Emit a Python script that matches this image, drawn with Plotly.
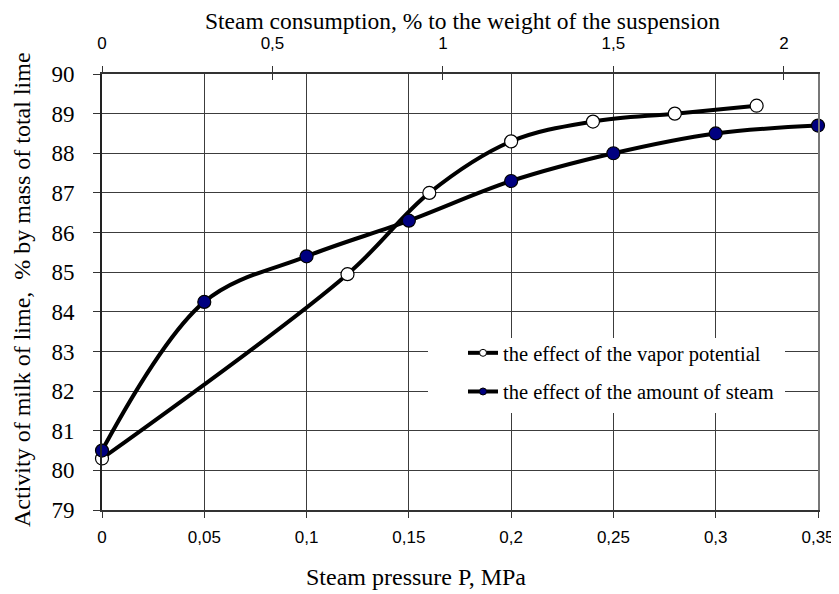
import plotly.graph_objects as go

# Data
pressure_open = [0, 0.12, 0.16, 0.2, 0.24, 0.28, 0.32]
activity_open = [80.3, 84.95, 87.0, 88.3, 88.8, 89.0, 89.2]

steam_filled = [0, 0.3, 0.6, 0.9, 1.2, 1.5, 1.8, 2.1]
activity_filled = [80.5, 84.25, 85.4, 86.3, 87.3, 88.0, 88.5, 88.7]

x_bottom_ticks = [0, 0.05, 0.1, 0.15, 0.2, 0.25, 0.3, 0.35]
x_bottom_labels = ["0", "0,05", "0,1", "0,15", "0,2", "0,25", "0,3", "0,35"]
x_top_ticks = [0, 0.5, 1, 1.5, 2]
x_top_labels = ["0", "0,5", "1", "1,5", "2"]
y_ticks = list(range(79, 91))

name_open = "the effect of the vapor potential"
name_filled = "the effect of the amount of steam"
title_top = "Steam consumption, % to the weight of the suspension"
title_bottom = "Steam pressure P, MPa"
title_y = "Activity of milk of lime,  % by mass of total lime"

SERIF = "Liberation Serif"
SANS = "Liberation Sans"

# page body has an 8px margin; compensate so the plot lands where the reference has it
OFF = 8
W, H = 839 - OFF, 594 - OFF
L, R, T, B = 102 - OFF, 21, 74 - OFF, 84
plot_w = W - L - R
plot_h = H - T - B


def px_x(px):
    return (px - OFF - L) / plot_w


def px_y(py):
    return (H - B - (py - OFF)) / plot_h


fig = go.Figure()

fig.add_trace(go.Scatter(
    x=pressure_open, y=activity_open, mode="lines+markers",
    line=dict(color="black", width=4, shape="spline", smoothing=1),
    marker=dict(size=13, color="white", line=dict(color="black", width=1.2)),
    showlegend=False, xaxis="x", yaxis="y", cliponaxis=False))

fig.add_trace(go.Scatter(
    x=steam_filled, y=activity_filled, mode="lines+markers",
    line=dict(color="black", width=4, shape="spline", smoothing=1),
    marker=dict(size=13, color="#000080", line=dict(color="black", width=1.2)),
    showlegend=False, xaxis="x2", yaxis="y", cliponaxis=False))

# legend entries
fig.add_trace(go.Scatter(
    x=[None], y=[None], mode="lines+markers", name=name_open, legendgroup="a",
    line=dict(color="black", width=4),
    marker=dict(size=7, color="white", line=dict(color="black", width=1)),
    xaxis="x", yaxis="y"))
fig.add_trace(go.Scatter(
    x=[None], y=[None], mode="lines+markers", name=name_filled, legendgroup="b",
    line=dict(color="black", width=4),
    marker=dict(size=7, color="#000080", line=dict(color="black", width=1)),
    xaxis="x", yaxis="y"))

# helper traces so the extra axes are drawn
fig.add_trace(go.Scatter(x=[None], y=[None], xaxis="x3", yaxis="y", showlegend=False))
fig.add_trace(go.Scatter(x=[None], y=[None], xaxis="x", yaxis="y2", showlegend=False))

grid = "#3c3c3c"
fig.update_layout(
    width=W, height=H,
    margin=dict(l=L, r=R, t=T, b=B),
    paper_bgcolor="white", plot_bgcolor="white",
    xaxis=dict(
        range=[0, 0.35], tickvals=x_bottom_ticks, ticktext=x_bottom_labels,
        showgrid=True, gridcolor=grid, gridwidth=1,
        showline=True, linecolor="#333", linewidth=1.5,
        ticks="outside", ticklen=6, tickcolor="#333",
        tickfont=dict(family=SANS, size=17, color="black"),
        ticklabelstandoff=5, automargin=False, zeroline=False),
    xaxis2=dict(
        range=[0, 2.1], overlaying="x", side="top", anchor="y",
        tickvals=x_top_ticks, ticktext=x_top_labels,
        showgrid=False, showline=True, linecolor="#333", linewidth=1.5,
        ticks="outside", ticklen=6, tickcolor="#333",
        tickfont=dict(family=SANS, size=17, color="black"),
        ticklabelstandoff=10, automargin=False, zeroline=False),
    xaxis3=dict(
        range=[0, 2.1], overlaying="x", side="top", anchor="y",
        tickvals=x_top_ticks, showticklabels=False, showgrid=False,
        ticks="inside", ticklen=6, tickcolor="#333", showline=False,
        automargin=False, zeroline=False),
    yaxis=dict(
        range=[79, 90], tickvals=y_ticks,
        showgrid=True, gridcolor=grid, gridwidth=1,
        showline=True, linecolor="#222", linewidth=2,
        ticks="outside", ticklen=7, tickcolor="#333",
        tickfont=dict(family=SERIF, size=23, color="black"),
        ticklabelstandoff=14, automargin=False, zeroline=False),
    yaxis2=dict(range=[79, 90], overlaying="y", side="right", showticklabels=False,
                showgrid=False, showline=True, linecolor="#777", linewidth=1.5,
                ticks="", automargin=False, zeroline=False),
    legend=dict(x=px_x(463), y=px_y(333), xanchor="left", yanchor="top",
                bgcolor="rgba(0,0,0,0)", borderwidth=0, tracegroupgap=9,
                font=dict(family=SERIF, size=20.5, color="black")),
    shapes=[dict(type="rect", xref="paper", yref="paper", layer="above",
                 x0=px_x(428), x1=px_x(785), y0=px_y(413), y1=px_y(338),
                 fillcolor="white", line=dict(width=0))],
    annotations=[
        dict(text=title_top, x=px_x(462), y=px_y(21), xref="paper", yref="paper",
             xanchor="center", yanchor="middle", showarrow=False,
             font=dict(family=SERIF, size=23.5, color="black")),
        dict(text=title_bottom, x=px_x(416), y=px_y(577), xref="paper", yref="paper",
             xanchor="center", yanchor="middle", showarrow=False,
             font=dict(family=SERIF, size=24, color="black")),
        dict(text=title_y, x=px_x(22), y=px_y(290), xref="paper", yref="paper",
             xanchor="center", yanchor="middle", showarrow=False, textangle=-90,
             font=dict(family=SERIF, size=24, color="black")),
    ],
)

fig.write_html("out.html")
